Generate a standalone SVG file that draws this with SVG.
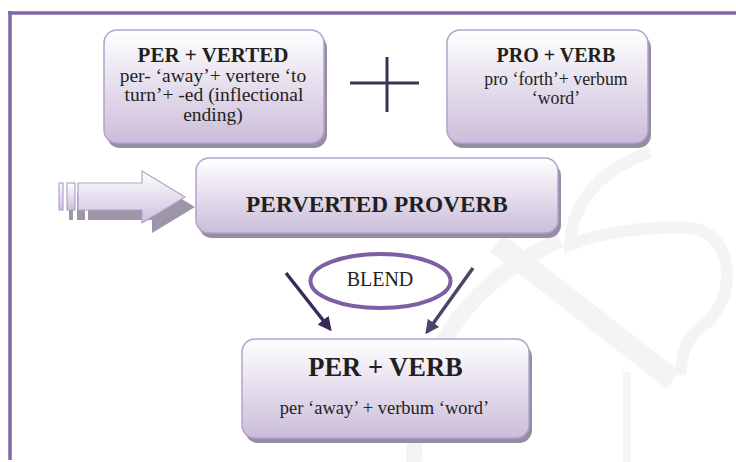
<svg xmlns="http://www.w3.org/2000/svg" width="736" height="462" viewBox="0 0 736 462">
<defs>
<linearGradient id="g" x1="0" y1="0" x2="0" y2="1">
<stop offset="0" stop-color="#ffffff"/>
<stop offset="1" stop-color="#cbbdda"/>
</linearGradient>
<linearGradient id="ga" x1="0" y1="0" x2="0" y2="1">
<stop offset="0" stop-color="#ffffff"/>
<stop offset="1" stop-color="#cdc0dc"/>
</linearGradient>
<marker id="ah" viewBox="0 0 10 10" refX="8" refY="5" markerWidth="4" markerHeight="4" orient="auto" markerUnits="strokeWidth">
<path d="M0,0 L10,5 L0,10 z" fill="context-stroke"/>
</marker>
</defs>
<style>
.box{fill:url(#g);stroke:#b3a2cc;stroke-width:1.5}
.sh{fill:#968ca4}
.wm{fill:none;stroke:#f4f4f4;stroke-linecap:butt}
.con{stroke-width:3.5;fill:none}
</style>
<rect width="736" height="462" fill="#ffffff"/>
<g id="watermark">
<path class="wm" d="M414,462 C412,380 450,290 560,240" stroke-width="16"/>
<path class="wm" d="M627,372 L627,462" stroke-width="8"/>
<path class="wm" d="M497,243 L673,380" stroke-width="22"/>
<path class="wm" d="M650,152 C605,168 572,198 570,245 C600,232 650,226 690,228 C735,232 740,300 700,328 C686,338 682,355 680,375" stroke-width="12"/>
</g>
<g id="frame">
<line x1="8" y1="13" x2="736" y2="13" stroke="#8267a8" stroke-width="3.5"/>
<line x1="10" y1="11" x2="10" y2="460" stroke="#8267a8" stroke-width="3.5"/>
</g>
<g font-family="Liberation Serif" fill="#231f20" text-anchor="middle">
<g id="box-per-verted">
<rect class="sh" x="107" y="35" width="220" height="113" rx="13"/>
<rect class="box" x="104" y="30" width="220" height="113" rx="13"/>
<text x="213" y="62" font-size="21" font-weight="bold">PER + VERTED</text>
<text font-size="19.5"><tspan x="213" y="82">per- ‘away’+ vertere ‘to</tspan><tspan x="214" y="101">turn’+ -ed (inflectional</tspan><tspan x="213" y="121">ending)</tspan></text>
</g>
<g id="plus">
<line x1="350" y1="83" x2="419" y2="83" stroke="#3d3158" stroke-width="3"/>
<line x1="387" y1="57" x2="387" y2="112" stroke="#3d3158" stroke-width="3"/>
</g>
<g id="box-pro-verb">
<rect class="sh" x="450" y="35" width="201" height="113" rx="13"/>
<rect class="box" x="447" y="30" width="201" height="113" rx="13"/>
<text x="556" y="62" font-size="20" font-weight="bold">PRO + VERB</text>
<text font-size="17.8"><tspan x="556" y="85">pro ‘forth’+ verbum</tspan><tspan x="556" y="104">‘word’</tspan></text>
</g>
<g id="block-arrow">
<g transform="translate(10,10)" fill="#9d95a8">
<rect x="59" y="183" width="4" height="27"/>
<rect x="67" y="183" width="8" height="27"/>
<path d="M78,183 L142,183 L142,171 L185,197 L142,223 L142,210 L78,210 z"/>
</g>
<g fill="url(#ga)" stroke="#b3a2cc" stroke-width="1.2">
<rect x="59" y="183" width="4" height="27"/>
<rect x="67" y="183" width="8" height="27"/>
<path d="M78,183 L142,183 L142,171 L185,197 L142,223 L142,210 L78,210 z"/>
</g>
</g>
<g id="box-perverted-proverb">
<rect class="sh" x="199" y="163" width="362" height="75" rx="13"/>
<rect class="box" x="196" y="158" width="362" height="75" rx="13"/>
<text x="377" y="212" font-size="23.3" font-weight="bold">PERVERTED PROVERB</text>
</g>
<g id="blend">
<ellipse cx="380.5" cy="281" rx="70" ry="27" fill="#ffffff" stroke="#7d5fa3" stroke-width="4"/>
<text x="380" y="286" font-size="20">BLEND</text>
</g>
<g id="connectors">
<line class="con" x1="286" y1="273" x2="330" y2="329" stroke="#3a2b55" marker-end="url(#ah)"/>
<line class="con" x1="473" y1="268" x2="427" y2="332" stroke="#4f4268" marker-end="url(#ah)"/>
</g>
<g id="box-per-verb">
<rect class="sh" x="245" y="344" width="287" height="99" rx="13"/>
<rect class="box" x="242" y="339" width="287" height="99" rx="13"/>
<text x="385.5" y="376" font-size="26.5" font-weight="bold">PER + VERB</text>
<text x="384.5" y="414" font-size="18.5">per ‘away’ + verbum ‘word’</text>
</g>
</g>
</svg>
